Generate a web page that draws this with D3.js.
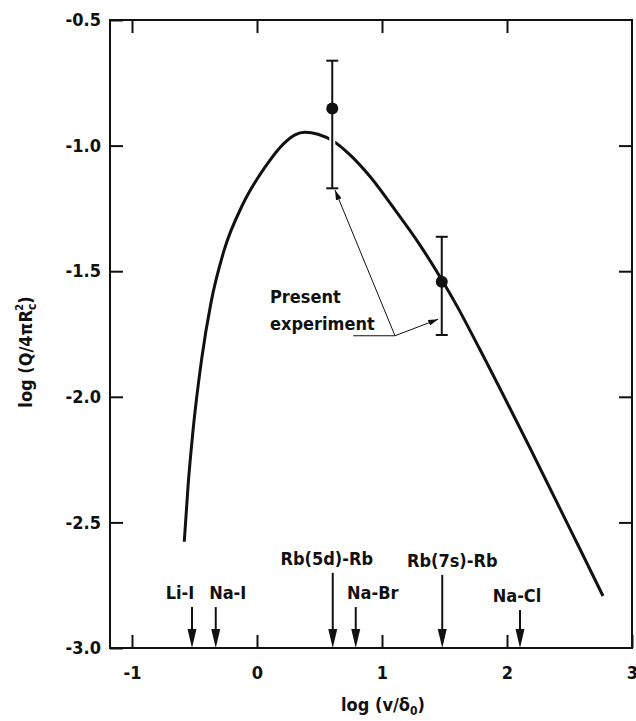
<!DOCTYPE html>
<html>
<head>
<meta charset="utf-8">
<script src="https://cdn.jsdelivr.net/npm/d3@7"></script>
<style>
  body { margin: 0; background: #fff; }
  text { font-family: "DejaVu Sans Condensed", "DejaVu Sans", sans-serif; font-weight: bold; fill: #111; }
</style>
</head>
<body>
<svg id="chart" width="636" height="721"></svg>
<script>
// theory curve
var curveX = [-0.582, -0.550, -0.514, -0.442, -0.368, -0.264, -0.112, 0.064, 0.216, 0.304, 0.384,
              0.488, 0.608, 0.744, 0.904, 1.104, 1.304, 1.478, 1.598, 1.776, 2.184, 2.560, 2.768];
var curveY = [-2.577, -2.344, -2.145, -1.847, -1.625, -1.418, -1.232, -1.086, -0.991, -0.957, -0.947,
              -0.955, -0.982, -1.037, -1.123, -1.256, -1.396, -1.534, -1.637, -1.805, -2.204, -2.582, -2.793];

// present experiment
var pointX = [0.602, 1.478];
var pointY = [-0.852, -1.542];
var errHi = [-0.662, -1.363];
var errLo = [-1.170, -1.754];

// systems marked along the x axis
var markerNames = ["Li-I", "Na-I", "Rb(5d)-Rb", "Na-Br", "Rb(7s)-Rb", "Na-Cl"];
var markerX = [-0.52, -0.33, 0.606, 0.79, 1.482, 2.104];
var markerTop = [-2.837, -2.837, -2.701, -2.837, -2.709, -2.849];

var xTicks = [-1, 0, 1, 2];
var xLabels = [-1, 0, 1, 2, 3];
var yTicks = [-0.5, -1.0, -1.5, -2.0, -2.5, -3.0];

var svg = d3.select("#chart");
var x = d3.scaleLinear().domain([-1.176, 3]).range([110, 632]);
var y = d3.scaleLinear().domain([-3, -0.5]).range([648, 20]);

svg.append("defs").append("marker")
  .attr("id", "head")
  .attr("viewBox", "0 0 10 6")
  .attr("refX", 10).attr("refY", 3)
  .attr("markerWidth", 10).attr("markerHeight", 6)
  .attr("markerUnits", "userSpaceOnUse")
  .attr("orient", "auto")
  .append("path").attr("d", "M0,0L10,3L0,6Z").attr("fill", "#111");

// ticks (inward) on all four sides
function styleAxis(g) {
  g.select(".domain").remove();
  g.selectAll(".tick line").attr("stroke", "#111").attr("stroke-width", 2);
  g.selectAll("text").style("font-size", "18px").attr("fill", "#111");
}
svg.append("g").attr("transform", "translate(0,648)")
  .call(d3.axisBottom(x).tickValues(xLabels).tickSize(-13).tickPadding(18).tickFormat(d3.format("d")))
  .call(styleAxis)
  .call(function(g) { g.selectAll(".tick text").text(function(d) { return String(d).replace("−", "-"); }); });
svg.append("g").attr("transform", "translate(0,20)")
  .call(d3.axisTop(x).tickValues(xTicks).tickSize(-13).tickFormat(""))
  .call(styleAxis);
svg.append("g").attr("transform", "translate(110,0)")
  .call(d3.axisLeft(y).tickValues(yTicks).tickSize(-13).tickPadding(9).tickFormat(function(d) { return d.toFixed(1); }))
  .call(styleAxis);
svg.append("g").attr("transform", "translate(632,0)")
  .call(d3.axisRight(y).tickValues(yTicks.slice(1, 5)).tickSize(-13).tickFormat(""))
  .call(styleAxis);

svg.append("rect")
  .attr("x", x(-1.176)).attr("y", y(-0.5))
  .attr("width", x(3) - x(-1.176)).attr("height", y(-3) - y(-0.5))
  .attr("fill", "none").attr("stroke", "#111").attr("stroke-width", 2);

// theory curve
var line = d3.line().x(function(d) { return x(d[0]); }).y(function(d) { return y(d[1]); })
  .curve(d3.curveMonotoneX);
svg.append("path")
  .datum(d3.zip(curveX, curveY))
  .attr("d", line)
  .attr("fill", "none").attr("stroke", "#111").attr("stroke-width", 3);

// error bars and points
pointX.forEach(function(px, i) {
  if (i === 0) {
    // the curve is broken where the first bar crosses it
    svg.append("line")
      .attr("x1", x(px)).attr("x2", x(px)).attr("y1", y(-0.93)).attr("y2", y(-1.04))
      .attr("stroke", "#fff").attr("stroke-width", 6);
  }
  svg.append("line")
    .attr("x1", x(px)).attr("x2", x(px)).attr("y1", y(errHi[i])).attr("y2", y(errLo[i]))
    .attr("stroke", "#111").attr("stroke-width", 2);
  [errHi[i], errLo[i]].forEach(function(v) {
    svg.append("line")
      .attr("x1", x(px) - 6).attr("x2", x(px) + 6).attr("y1", y(v)).attr("y2", y(v))
      .attr("stroke", "#111").attr("stroke-width", 2);
  });
  svg.append("circle")
    .attr("cx", x(px)).attr("cy", y(pointY[i])).attr("r", 6)
    .attr("fill", "#111");
});

// "Present experiment" leader lines
var knee = [1.104, -1.757];
svg.append("line")
  .attr("x1", x(0.770)).attr("y1", y(knee[1])).attr("x2", x(knee[0])).attr("y2", y(knee[1]))
  .attr("stroke", "#111").attr("stroke-width", 1);
[[0.624, -1.177], [1.450, -1.691]].forEach(function(t) {
  svg.append("line")
    .attr("x1", x(knee[0])).attr("y1", y(knee[1])).attr("x2", x(t[0])).attr("y2", y(t[1]))
    .attr("stroke", "#111").attr("stroke-width", 1)
    .attr("marker-end", "url(#head)");
});
var note = svg.append("text").attr("x", x(0.104)).style("font-size", "18px");
note.append("tspan").attr("x", x(0.104)).attr("y", 303).text("Present");
note.append("tspan").attr("x", x(0.104)).attr("y", 330).text("experiment");

// arrows at the bottom
var labelDx = [-12, 12, -6, 17, 10, -3];
markerX.forEach(function(mx, i) {
  var cx = x(mx), top = y(markerTop[i]), tip = y(-3);
  svg.append("line")
    .attr("x1", cx).attr("x2", cx).attr("y1", top).attr("y2", tip - 14)
    .attr("stroke", "#111").attr("stroke-width", 2);
  svg.append("path")
    .attr("d", "M" + (cx - 4.5) + "," + (tip - 19) + "L" + (cx + 4.5) + "," + (tip - 19) + "L" + cx + "," + tip + "Z")
    .attr("fill", "#111");
  svg.append("text")
    .attr("x", cx + labelDx[i]).attr("y", top - 8)
    .attr("text-anchor", "middle").style("font-size", "18px")
    .text(markerNames[i]);
});

// axis titles
var xt = svg.append("text").attr("x", 383).attr("y", 711)
  .attr("text-anchor", "middle").style("font-size", "18px");
xt.append("tspan").text("log (v/δ");
xt.append("tspan").attr("dy", 4).style("font-size", "12px").text("0");
xt.append("tspan").attr("dy", -4).text(")");

var yt = svg.append("text").attr("transform", "translate(32,352) rotate(-90)")
  .attr("text-anchor", "middle").style("font-size", "18px");
yt.append("tspan").text("log (Q/4πR");
yt.append("tspan").attr("dy", 4).style("font-size", "12px").text("c");
yt.append("tspan").attr("dx", -7).attr("dy", -13).style("font-size", "11px").text("2");
yt.append("tspan").attr("dy", 9).text(")");
</script>
</body>
</html>
